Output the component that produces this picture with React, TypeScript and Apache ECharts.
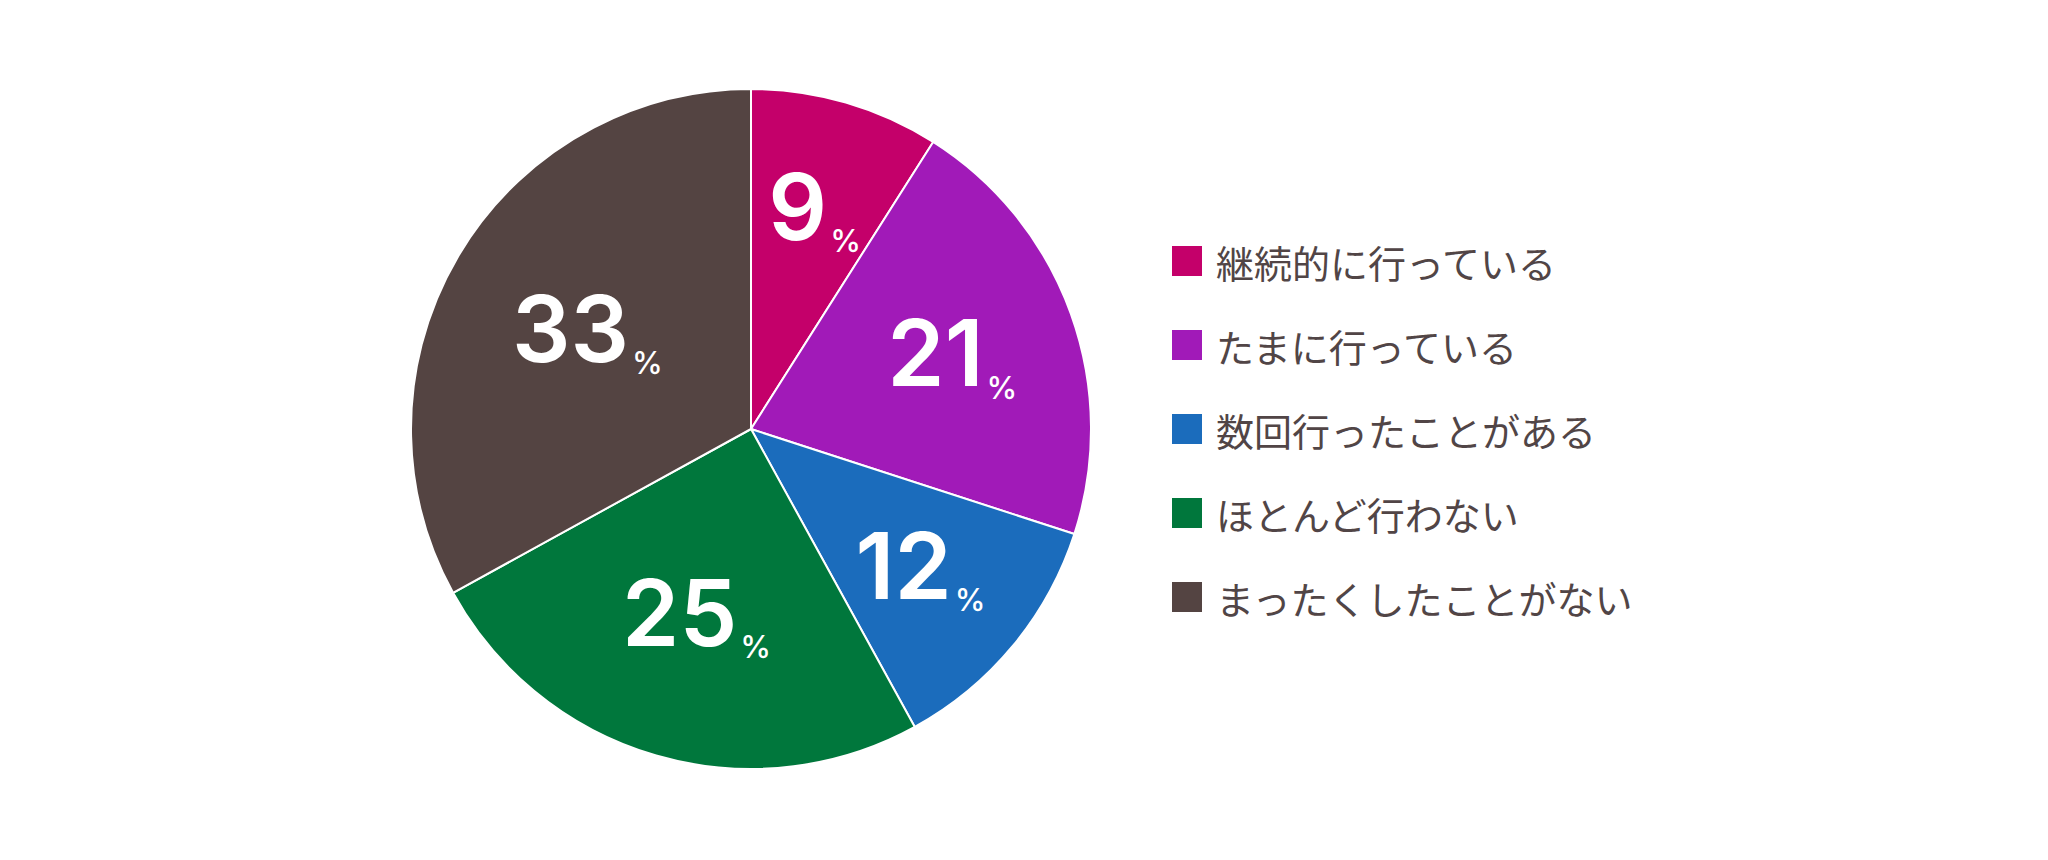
import { useEffect, useRef } from "react";
import * as echarts from "echarts";

// 回答項目
const categories = [
  "継続的に行っている",
  "たまに行っている",
  "数回行ったことがある",
  "ほとんど行わない",
  "まったくしたことがない",
];
// 割合 (%)
const values = [9, 21, 12, 25, 33];
const colors = ["#C4006A", "#A11AB8", "#1B6CBC", "#00773C", "#544442"];

// 円の中心と半径
const CX = 751;
const CY = 429;
const R = 340;
// ラベルの中心からの距離
const labelDist = [228, 214, 220, 195, 190];

const App = () => {
  const chartRef = useRef<HTMLDivElement>(null);

  useEffect(() => {
    if (!chartRef.current) return;
    document.body.style.margin = "0";

    const chart = echarts.init(chartRef.current, null, { renderer: "svg" });

    const total = values.reduce((a, b) => a + b, 0);
    // 各スライスの中央角度（上から時計回り）
    const midAngles: number[] = [];
    let acc = 0;
    values.forEach((v) => {
      midAngles.push(((acc + v / 2) / total) * Math.PI * 2);
      acc += v;
    });

    const option: echarts.EChartsOption = {
      animation: false,
      color: colors,
      legend: {
        orient: "vertical",
        left: 1167,
        top: 237,
        itemWidth: 30,
        itemHeight: 30,
        itemGap: 46,
        icon: "rect",
        selectedMode: false,
        data: categories,
        itemStyle: { borderWidth: 0 },
        textStyle: {
          fontFamily: "Noto Sans CJK JP",
          fontSize: 38,
          lineHeight: 38,
          color: "#514546",
          padding: [0, 0, 0, 9],
        },
      },
      series: [
        {
          type: "pie",
          center: [CX, CY],
          radius: [0, R],
          startAngle: 90,
          clockwise: true,
          silent: true,
          data: categories.map((name, i) => ({ name, value: values[i] })),
          itemStyle: {
            borderColor: "#ffffff",
            borderWidth: 2,
          },
          label: {
            show: true,
            position: "inside",
            formatter: (p: any) => `{n|${p.value}}{p|%}`,
            rich: {
              n: {
                fontFamily: "Inter",
                fontWeight: 600,
                fontSize: 92,
                color: "#ffffff",
                lineHeight: 92,
                verticalAlign: "bottom",
              },
              p: {
                fontFamily: "Inter",
                fontWeight: 500,
                fontSize: 31,
                color: "#ffffff",
                lineHeight: 92,
                verticalAlign: "bottom",
                padding: [0, 0, -4, 3],
              },
            },
          },
          labelLine: { show: false },
          labelLayout: (params: any) => {
            const i = params.dataIndex;
            const a = midAngles[i];
            return {
              x: CX + labelDist[i] * Math.sin(a),
              y: CY - labelDist[i] * Math.cos(a) - 4,
              align: "center",
              verticalAlign: "middle",
            };
          },
        },
      ],
    };

    chart.setOption(option);

    return () => {
      chart.dispose();
    };
  }, []);

  return <div ref={chartRef} style={{ width: "2048px", height: "860px" }} />;
};

export default App;
